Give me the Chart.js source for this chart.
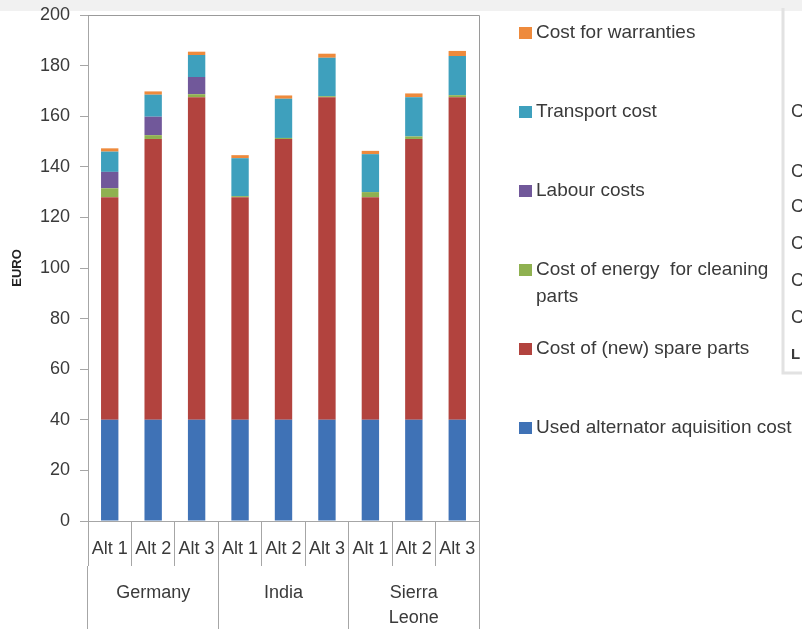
<!DOCTYPE html>
<html>
<head>
<meta charset="utf-8">
<script src="https://cdn.jsdelivr.net/npm/chart.js@4.4.1/dist/chart.umd.min.js"></script>
<style>
  html, body { margin: 0; background: #fff; }
  #wrap { width: 802px; height: 629px; position: relative; }
</style>
</head>
<body>
<div id="wrap"><canvas id="costChart"></canvas></div>
<script>
// categories
const alternatives = ["Alt 1", "Alt 2", "Alt 3", "Alt 1", "Alt 2", "Alt 3", "Alt 1", "Alt 2", "Alt 3"];
const countries = ["Germany", "India", ["Sierra", "Leone"]];

// cost components per alternative (EURO), Germany / India / Sierra Leone
const usedAlternator = [40, 40, 40, 40, 40, 40, 40, 40, 40];
const spareParts = [88, 111, 127.5, 88, 111, 127.5, 88, 111, 127.5];
const cleaningEnergy = [3.5, 1.5, 1.2, 0.4, 0.4, 0.4, 2, 1, 0.8];
const labour = [6.5, 7.3, 6.8, 0, 0, 0, 0, 0, 0];
const transport = [8, 8.7, 8.7, 15, 15.5, 15.2, 15, 15.5, 15.5];
const warranties = [1.3, 1.3, 1.3, 1.2, 1.3, 1.6, 1.3, 1.5, 2];

const seriesNames = [
  "Used alternator aquisition cost",
  "Cost of (new) spare parts",
  ["Cost of energy  for cleaning", "parts"],
  "Labour costs",
  "Transport cost",
  "Cost for warranties",
];
const seriesValues = [usedAlternator, spareParts, cleaningEnergy, labour, transport, warranties];
const seriesColors = ["#3f72b6", "#b2433e", "#8fb150", "#71589a", "#3ea0bd", "#ee8a3c"];

const FONT = "'Liberation Sans', Arial, sans-serif";
const TEXT = "#3a3a3a";
const LINE = "#a6a6a6";

// legend on the right, top entry = top of the stack
const sideLegend = {
  id: "sideLegend",
  beforeDraw(chart) {
    const ctx = chart.ctx;
    ctx.save();
    ctx.fillStyle = "#f1f1f1";
    ctx.fillRect(0, 0, chart.width, 11);
    ctx.restore();
  },
  afterDraw(chart) {
    const ctx = chart.ctx;
    const area = chart.chartArea;
    ctx.save();

    // frame around the plot
    ctx.strokeStyle = "#9a9a9a";
    ctx.lineWidth = 1;
    ctx.beginPath();
    ctx.moveTo(area.left, area.top + 0.5);
    ctx.lineTo(area.right + 0.5, area.top + 0.5);
    ctx.lineTo(area.right + 0.5, area.bottom);
    ctx.stroke();

    ctx.font = "19px " + FONT;
    ctx.textBaseline = "middle";
    const sets = chart.data.datasets.slice().reverse();
    sets.forEach((ds, i) => {
      const y = 33 + i * 79;
      ctx.fillStyle = ds.backgroundColor;
      ctx.fillRect(519, y - 6, 13, 12);
      ctx.fillStyle = TEXT;
      ds.lines.forEach((line, j) => ctx.fillText(line, 536, y + j * 27));
    });

    // neighbouring table, cut at the edge
    ctx.strokeStyle = "#e2e2e2";
    ctx.lineWidth = 3;
    ctx.beginPath();
    ctx.moveTo(783, 8);
    ctx.lineTo(783, 373);
    ctx.lineTo(802, 373);
    ctx.stroke();
    ctx.font = "18px " + FONT;
    ctx.fillStyle = TEXT;
    [112, 172, 207, 244, 281, 318].forEach(y => ctx.fillText("C", 791, y));
    ctx.font = "bold 15px " + FONT;
    ctx.fillText("L", 791, 355);
    ctx.restore();
  },
};

new Chart(document.getElementById("costChart"), {
  type: "bar",
  data: {
    labels: alternatives,
    datasets: seriesValues.map((data, i) => ({
      label: [].concat(seriesNames[i]).join(" "),
      lines: [].concat(seriesNames[i]),
      data: data,
      backgroundColor: seriesColors[i],
      barPercentage: 0.4,
      categoryPercentage: 1,
    })),
  },
  options: {
    responsive: true,
    maintainAspectRatio: false,
    animation: false,
    layout: { padding: { top: 15, right: 323, bottom: 0, left: 0 } },
    plugins: {
      legend: { display: false },
      tooltip: { enabled: false },
    },
    scales: {
      x: {
        stacked: true,
        offset: true,
        grid: { offset: true, drawOnChartArea: false, tickLength: 45, color: LINE },
        border: { color: LINE },
        ticks: {
          padding: -28,
          color: TEXT,
          autoSkip: false,
          maxRotation: 0,
          font: { size: 18, family: FONT },
        },
        afterFit: (s) => { s.height = 45; },
      },
      x2: {
        type: "category",
        labels: countries,
        position: "bottom",
        offset: true,
        grid: { offset: true, drawOnChartArea: false, tickLength: 63, color: LINE },
        border: { display: false },
        ticks: {
          padding: -49,
          color: TEXT,
          maxRotation: 0,
          font: { size: 18, family: FONT, lineHeight: 1.4 },
        },
        afterFit: (s) => { s.height = 63; },
      },
      y: {
        stacked: true,
        min: 0,
        max: 200,
        grid: { drawOnChartArea: false, tickLength: 8, color: LINE },
        border: { color: LINE },
        ticks: {
          stepSize: 20,
          padding: 10,
          color: TEXT,
          font: { size: 18, family: FONT },
        },
        title: {
          display: true,
          text: "EURO",
          color: "#222",
          padding: { top: 10, bottom: 0 },
          font: { size: 13, weight: "bold", family: FONT },
        },
        afterFit: (s) => {
          s.width = 88;
          s.paddingTop = 0;
          s.paddingBottom = 0;
        },
      },
    },
  },
  plugins: [sideLegend],
});
</script>
</body>
</html>
